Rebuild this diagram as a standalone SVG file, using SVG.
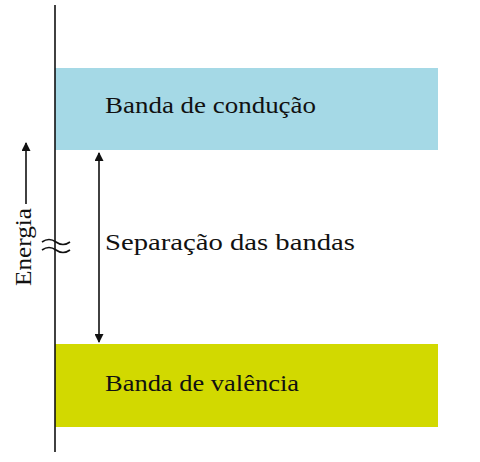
<svg xmlns="http://www.w3.org/2000/svg" width="480" height="462" viewBox="0 0 480 462">
<style>
.t{font-family:"Liberation Serif","DejaVu Serif",serif;font-size:23px;fill:#111}
.ln{stroke:#111;stroke-width:1.6;fill:none}
</style>
<defs>
<marker id="ah" viewBox="0 0 10 10" refX="9" refY="5" markerWidth="11" markerHeight="9" orient="auto-start-reverse" markerUnits="userSpaceOnUse">
<path d="M0,0 L10,5 L0,10 z" fill="#111"/>
</marker>
</defs>
<rect width="480" height="462" fill="#fff"/>
<g id="conducao">
<rect x="55" y="68" width="383" height="82" fill="#a5d9e6"/>
<text class="t" x="105" y="113" textLength="211" lengthAdjust="spacingAndGlyphs">Banda de condução</text>
</g>
<g id="valencia">
<rect x="55" y="344" width="383" height="83" fill="#d2d900"/>
<text class="t" x="105" y="391" textLength="194" lengthAdjust="spacingAndGlyphs">Banda de valência</text>
</g>
<g id="separacao">
<text class="t" x="105" y="250" textLength="250" lengthAdjust="spacingAndGlyphs">Separação das bandas</text>
</g>
<g id="energia">
<text class="t" transform="translate(31,286) rotate(-90)" textLength="78" lengthAdjust="spacingAndGlyphs">Energia</text>
</g>
<g id="connectors">
<line class="ln" x1="55" y1="5" x2="55" y2="452"/>
<path class="ln" d="M42,242 q7,-5 14,0 t14,0 M42,250 q7,-5 14,0 t14,0"/>
<line class="ln" x1="26" y1="204" x2="26" y2="143" marker-end="url(#ah)"/>
<line class="ln" x1="99" y1="153" x2="99" y2="342" marker-start="url(#ah)" marker-end="url(#ah)"/>
</g>
</svg>
